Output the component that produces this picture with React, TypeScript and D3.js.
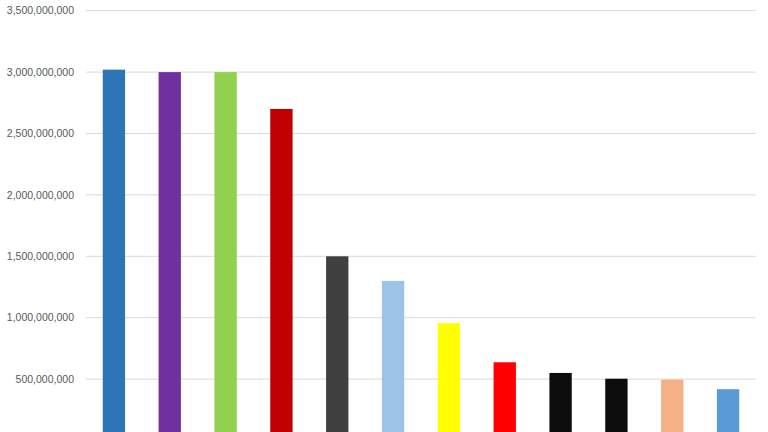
import React from 'react';
import * as d3 from 'd3';

// the reference shows no category labels, so these are just keys
const categories = ['c1', 'c2', 'c3', 'c4', 'c5', 'c6', 'c7', 'c8', 'c9', 'c10', 'c11', 'c12'];
const values = [
  3020000000, 3000000000, 3000000000, 2700000000, 1500000000, 1300000000,
  955000000, 637000000, 550000000, 503000000, 496000000, 418000000,
];
const barColors = [
  '#2E75B6', '#7030A0', '#92D050', '#C00000', '#404040', '#9DC3E6',
  '#FFFF00', '#FF0000', '#0D0D0D', '#0D0D0D', '#F4B183', '#5B9BD5',
];
const yTicks = [500000000, 1000000000, 1500000000, 2000000000, 2500000000, 3000000000, 3500000000];

const width = 768;
const height = 432;
const margin = { left: 86, right: 12 };

const App: React.FC = () => {
  // zero sits just below the visible picture (the chart is cropped)
  const y = d3.scaleLinear().domain([0, 3500000000]).range([440.5, 10.7]);
  const x = d3.scaleBand<string>()
    .domain(categories)
    .range([margin.left, width - margin.right])
    .paddingInner(0.6)
    .paddingOuter(0.3);
  const fmt = d3.format(',');

  return (
    <svg
      width={width}
      height={height}
      style={{ position: 'fixed', left: 0, top: 0, background: '#fff' }}
    >
      <g>
        {yTicks.map(t => (
          <g key={t}>
            <line
              x1={margin.left} x2={width - margin.right}
              y1={y(t)} y2={y(t)}
              stroke="#d9d9d9" strokeWidth={1}
            />
            <text
              x={74} y={y(t)} dy="0.35em"
              textAnchor="end"
              fill="#595959"
              fontSize={10.5}
              fontFamily="'Liberation Sans', Arial, sans-serif"
            >
              {fmt(t)}
            </text>
          </g>
        ))}
      </g>
      <g>
        {categories.map((c, i) => (
          <rect
            key={c}
            x={x(c)}
            y={y(values[i])}
            width={x.bandwidth()}
            height={y(0) - y(values[i])}
            fill={barColors[i]}
          />
        ))}
      </g>
    </svg>
  );
};

export default App;
